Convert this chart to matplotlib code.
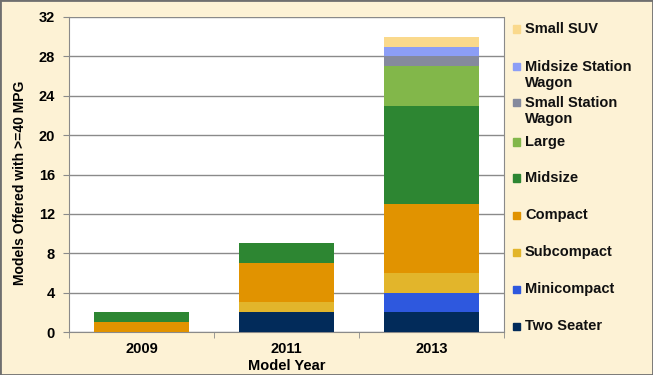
import matplotlib
matplotlib.use("Agg")
import matplotlib.pyplot as plt
from matplotlib.patches import Rectangle
import numpy as np

# Data
years = ["2009", "2011", "2013"]
categories = ["Two Seater", "Minicompact", "Subcompact", "Compact", "Midsize",
              "Large", "Small Station\nWagon", "Midsize Station\nWagon", "Small SUV"]
two_seater = [0, 2, 2]
minicompact = [0, 0, 2]
subcompact = [0, 1, 2]
compact = [1, 4, 7]
midsize = [1, 2, 10]
large = [0, 0, 4]
small_wagon = [0, 0, 1]
midsize_wagon = [0, 0, 1]
small_suv = [0, 0, 1]
series = [two_seater, minicompact, subcompact, compact, midsize,
          large, small_wagon, midsize_wagon, small_suv]

colors = ["#022B5A", "#2E58DE", "#E2B52B", "#E19300", "#2D8632",
          "#82B74A", "#858A9D", "#8C9EF6", "#FAD98C"]

BG = "#FDF2D5"
GRID = "#8A8A8A"
plt.rcParams['font.family'] = ['Liberation Sans', 'DejaVu Sans']
plt.rcParams['font.weight'] = 'bold'
plt.rcParams['text.color'] = '#111111'

fig = plt.figure(figsize=(6.53, 3.75), dpi=100, facecolor=BG)
fig.patches.append(Rectangle((0, 0), 1, 1, transform=fig.transFigure,
                             fill=False, edgecolor="#6F6F6F", linewidth=2))
ax = fig.add_axes([69 / 653, 1 - 332 / 375, 435 / 653, 315 / 375])
ax.set_facecolor("white")

x = np.arange(len(years))
bottom = np.zeros(len(years))
for vals, col in zip(series, colors):
    ax.bar(x, vals, width=0.66, bottom=bottom, color=col, zorder=3)
    bottom += np.array(vals)

ax.set_xlim(-0.5, 2.5)
ax.set_ylim(0, 32)
ax.set_yticks(np.arange(0, 33, 4))
ax.grid(axis="y", color=GRID, linewidth=1, zorder=0)
ax.set_xticks(x)
ax.set_xticklabels(years)
ax.set_xticks([-0.5, 0.5, 1.5, 2.5], minor=True)
ax.tick_params(axis="x", which="major", length=0, pad=7, labelsize=10.5)
ax.tick_params(axis="x", which="minor", length=4, color=GRID)
ax.tick_params(axis="y", length=4, color=GRID, pad=6, labelsize=10.5)

ax.spines["top"].set_visible(False)
for side in ["left", "bottom", "right"]:
    ax.spines[side].set_color(GRID)

ax.set_xlabel("Model Year", fontsize=10.5, fontweight="bold", va="center")
ax.xaxis.set_label_coords(0.5, -0.108)
ax.set_ylabel("Models Offered with >=40 MPG", fontsize=10, fontweight="bold", va="center")
ax.yaxis.set_label_coords(-0.113, 0.473)

# Legend drawn by hand to match the Excel spacing
legend_y = [326, 289, 252, 215, 178, 142, 111, 75, 29]
for lab, col, yy in zip(categories, colors, legend_y):
    nlines = lab.count("\n") + 1
    ytop = yy - 8.5 * (nlines - 1)
    fig.patches.append(Rectangle((513 / 653, 1 - (ytop + 3.5) / 375), 7 / 653, 7 / 375,
                                 transform=fig.transFigure, color=col))
    fig.text(525 / 653, 1 - yy / 375, lab, fontsize=10.5, fontweight="bold",
             va="center", ha="left", linespacing=1.1)

fig.savefig("out.png", dpi=100, facecolor=BG)
